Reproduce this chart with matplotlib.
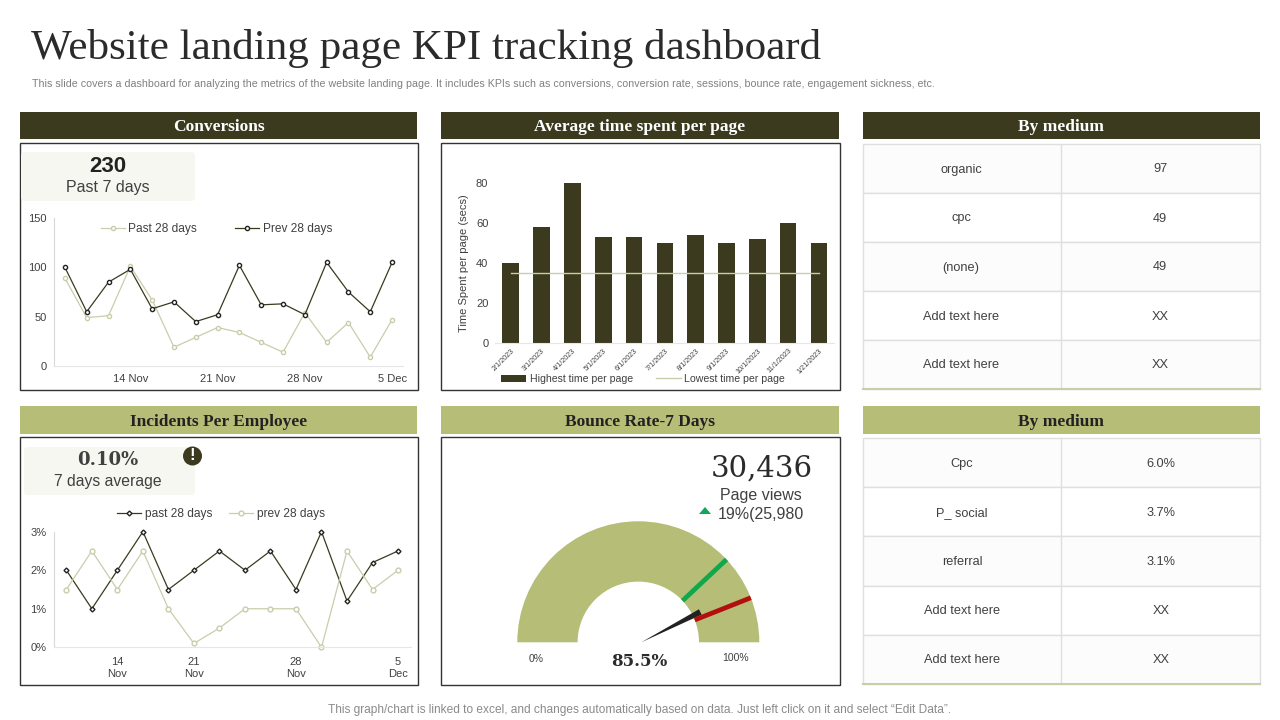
import numpy as np
import matplotlib
matplotlib.use('Agg')
import matplotlib.pyplot as plt
from matplotlib.patches import Rectangle, FancyBboxPatch, Wedge, Polygon, Circle

W, H = 1280, 720
DARK = '#3b3a1e'
OLIVE = '#b5bd76'
PALE = '#c9cdaa'
GREY = '#404040'

conv_dark = [100, 55, 85, 98, 58, 65, 45, 52, 102, 62, 63, 52, 105, 75, 55, 105]
conv_light = [89, 49, 51, 101, 67, 19, 29, 39, 34, 24, 14, 54, 24, 44, 9, 47]
conv_ticks = {3: '14 Nov', 7: '21 Nov', 11: '28 Nov', 15: '5 Dec'}

time_dates = ['2/1/2023', '3/1/2023', '4/1/2023', '5/1/2023', '6/1/2023', '7/1/2023',
              '8/1/2023', '9/1/2023', '10/1/2023', '11/1/2023', '1/21/2023']
time_high = [40, 58, 80, 53, 53, 50, 54, 50, 52, 60, 50]
time_low = [35, 35, 35, 35, 35, 35, 35, 35, 35, 35, 35]

inc_past = [2, 1, 2, 3, 1.5, 2, 2.5, 2, 2.5, 1.5, 3, 1.2, 2.2, 2.5]
inc_prev = [1.5, 2.5, 1.5, 2.5, 1, 0.1, 0.5, 1, 1, 1, 0, 2.5, 1.5, 2]
inc_ticks = {2: '14\nNov', 5: '21\nNov', 9: '28\nNov', 13: '5\nDec'}

table1 = [('organic', '97'), ('cpc', '49'), ('(none)', '49'), ('Add text here', 'XX'), ('Add text here', 'XX')]
table2 = [('Cpc', '6.0%'), ('P_ social', '3.7%'), ('referral', '3.1%'), ('Add text here', 'XX'), ('Add text here', 'XX')]

gauge_value = 85.5
gauge_green = 76
gauge_red = 88

plt.rcParams['font.family'] = ['Liberation Sans', 'DejaVu Sans']
fig = plt.figure(figsize=(W / 100, H / 100), dpi=100, facecolor='white')


def px_axes(x0, y0, x1, y1):
    # axes from pixel box, y counted from the top of the slide
    return fig.add_axes([x0 / W, 1 - y1 / H, (x1 - x0) / W, (y1 - y0) / H])


bg = fig.add_axes([0, 0, 1, 1])
bg.set_xlim(0, W)
bg.set_ylim(H, 0)
bg.axis('off')

bg.text(31, 59.5, 'Website landing page KPI tracking dashboard', family='Liberation Serif', fontsize=31.1,
        color='#2b2b2b', va='baseline')
bg.text(32, 84, 'This slide covers a dashboard for analyzing the metrics of the website landing page. It includes KPIs '
        'such as conversions, conversion rate, sessions, bounce rate, engagement sickness, etc.',
        fontsize=7.69, color='#808080', va='center')
bg.text(639, 710, 'This graph/chart is linked to excel, and changes automatically based on data. Just left click on it '
        'and select \u201cEdit Data\u201d.', fontsize=8.6, color='#8a8a8a', va='center', ha='center')

headers = [(20, 417, 112, 139, 'Conversions', DARK, 'white'),
           (441, 839, 112, 139, 'Average time spent per page', DARK, 'white'),
           (863, 1260, 112, 139, 'By medium', DARK, 'white'),
           (20, 417, 406, 434, 'Incidents Per Employee', OLIVE, '#222222'),
           (441, 839, 406, 434, 'Bounce Rate-7 Days', OLIVE, '#222222'),
           (863, 1260, 406, 434, 'By medium', OLIVE, '#222222')]
for x0, x1, y0, y1, label, col, tcol in headers:
    bg.add_patch(Rectangle((x0, y0), x1 - x0, y1 - y0, fc=col, ec='none'))
    bg.text((x0 + x1) / 2, (y0 + y1) / 2 + 5.5, label, family='Liberation Serif', weight='bold', fontsize=12.5,
            color=tcol, ha='center', va='baseline')

for x0, x1, y0, y1 in [(20, 418, 143, 390), (441, 840, 143, 390), (20, 418, 437, 685), (441, 840, 437, 685)]:
    bg.add_patch(Rectangle((x0, y0), x1 - x0, y1 - y0, fc='white', ec='#333333', lw=1))


def draw_table(rows, top, row_h, text_x):
    x0, x1, xm = 863, 1260, 1061
    for i, (a, b) in enumerate(rows):
        y = top + i * row_h
        bg.add_patch(Rectangle((x0, y), x1 - x0, row_h, fc='#fcfcfc' if i % 2 == 0 else 'white', ec='#dfdfdf', lw=1))
        bg.text(text_x[0], y + row_h / 2 + 1, a, fontsize=9.2, color=GREY, ha='center', va='center')
        bg.text(text_x[1], y + row_h / 2 + 1, b, fontsize=9.2, color=GREY, ha='center', va='center')
    bg.plot([xm, xm], [top, top + row_h * len(rows)], color='#dfdfdf', lw=1)
    bg.plot([x0, x1], [top + row_h * len(rows)] * 2, color=PALE, lw=1.5)


draw_table(table1, 144, 49, (961, 1160))
draw_table(table2, 438, 49.2, (962, 1161))

# KPI boxes
for x0, y0, x1, y1 in [(21, 152, 195, 201), (24, 447, 195, 495)]:
    bg.add_patch(FancyBboxPatch((x0 + 4, y0 + 4), x1 - x0 - 8, y1 - y0 - 8, boxstyle='round,pad=4',
                                fc='#f7f7f1', ec='none'))
bg.text(108, 166, '230', fontsize=16, weight='bold', color='#222222', ha='center', va='center')
bg.text(108, 187.5, 'Past 7 days', fontsize=11.5, color=GREY, ha='center', va='center')
bg.text(108, 460, '0.10%', family='DejaVu Serif', weight='bold', fontsize=13, color=GREY, ha='center', va='center')
bg.text(108, 481.5, '7 days average', fontsize=11.3, color=GREY, ha='center', va='center')
bg.add_patch(Circle((192.5, 456), 9.5, fc=DARK, ec='none'))
bg.text(192.5, 456, '!', fontsize=12, weight='bold', color='white', ha='center', va='center')


def style_axis(ax):
    for s in ['top', 'right']:
        ax.spines[s].set_visible(False)
    ax.spines['left'].set_color('#d9d9d9')
    ax.spines['bottom'].set_color('#e6e6e6')
    ax.tick_params(length=0, labelsize=8, labelcolor=GREY)
    ax.patch.set_alpha(0)


# Conversions
ax = px_axes(54, 218, 403, 366)
x = np.arange(len(conv_dark))
l1, = ax.plot(x, conv_light, color=PALE, lw=0.9, marker='o', ms=3, mfc='white', mec=PALE, label='Past 28 days')
l2, = ax.plot(x, conv_dark, color=DARK, lw=0.9, marker='o', ms=3, mfc='white', mec='#222222', label='Prev 28 days')
ax.set_xlim(-0.5, len(x) - 0.5)
ax.set_ylim(0, 150)
ax.set_yticks([0, 50, 100, 150])
ax.set_xticks(list(conv_ticks), list(conv_ticks.values()))
style_axis(ax)
ax.tick_params(axis='y', pad=5)
ax.tick_params(axis='x', pad=6)
ax.legend(handles=[l1, l2], ncol=2, loc='center', bbox_to_anchor=(0.466, 0.925), frameon=False, fontsize=8.6,
          labelcolor=GREY, columnspacing=3.2, handlelength=2, handletextpad=0.33, borderpad=0)

# Average time per page
ax = px_axes(495.3, 183, 834.4, 343)
x = np.arange(len(time_high))
b = ax.bar(x, time_high, width=0.54, color=DARK, label='Highest time per page')
l, = ax.plot(x, time_low, color=PALE, lw=1, label='Lowest time per page')
ax.set_xlim(-0.5, len(x) - 0.5)
ax.set_ylim(0, 80)
ax.set_yticks([0, 20, 40, 60, 80])
ax.set_xticks(x, time_dates, rotation=45, ha='right', rotation_mode='anchor', fontsize=5.2)
style_axis(ax)
ax.spines['left'].set_visible(False)
ax.tick_params(axis='x', labelsize=5.2, pad=3)
ax.tick_params(axis='y', pad=5, labelsize=8)
ax.set_ylabel('Time Spent per page (secs)', fontsize=8, color=GREY, labelpad=5)
ax.legend(handles=[b, l], ncol=2, loc='center', bbox_to_anchor=(0.436, -0.225), frameon=False, fontsize=7.6,
          labelcolor=GREY, columnspacing=2.2, handlelength=2.4, handletextpad=0.3, borderpad=0)

# Incidents per employee
ax = px_axes(53.6, 531.7, 410.8, 647.3)
x = np.arange(len(inc_past))
l1, = ax.plot(x, inc_past, color=DARK, lw=0.9, marker='D', ms=2.5, mfc='white', mec='#222222', label='past 28 days',
              clip_on=False)
l2, = ax.plot(x, inc_prev, color=PALE, lw=0.9, marker='o', ms=3.5, mfc='white', mec=PALE, label='prev 28 days',
              clip_on=False)
ax.set_xlim(-0.5, len(x) - 0.5)
ax.set_ylim(0, 3)
ax.set_yticks([0, 1, 2, 3], ['0%', '1%', '2%', '3%'])
ax.set_xticks(list(inc_ticks), list(inc_ticks.values()))
style_axis(ax)
ax.tick_params(axis='y', pad=5)
ax.tick_params(axis='x', pad=7, labelsize=8)
ax.legend(handles=[l1, l2], ncol=2, loc='center', bbox_to_anchor=(0.469, 1.155), frameon=False, fontsize=8.6,
          labelcolor=GREY, columnspacing=1.4, handlelength=2, handletextpad=0.33, borderpad=0)

# Bounce rate gauge, drawn in pixels around the hub
cx, cy, r_out, r_in = 638.3, 642.3, 121, 60.7


def angle(pct):
    # pct 0 at left end of the arc, 100 at right end; y axis of bg points down
    return np.deg2rad(180 - 180 * pct / 100)


bg.add_patch(Wedge((cx, cy), r_out, 180, 360, width=r_out - r_in, fc=OLIVE, ec='none'))
for pct, col in [(gauge_green, '#0fa84a'), (gauge_red, '#b30f0f')]:
    t = angle(pct)
    bg.plot([cx + r_in * np.cos(t), cx + r_out * np.cos(t)], [cy - r_in * np.sin(t), cy - r_out * np.sin(t)],
            color=col, lw=3.4, solid_capstyle='butt')
t = angle(gauge_value)
tip = np.array([cx + 69 * np.cos(t), cy - 69 * np.sin(t)])
n = np.array([np.sin(t), np.cos(t)]) * 3
bg.add_patch(Polygon([(cx + 3, cy), tip + n, tip - n], fc='#222222', ec='none'))

bg.text(536, 659, '0%', fontsize=7.5, color=GREY, ha='center', va='center')
bg.text(736, 658, '100%', fontsize=7.5, color=GREY, ha='center', va='center')
bg.text(639.5, 661, '85.5%', family='DejaVu Serif', weight='bold', fontsize=12, color='#2b2b2b', ha='center', va='center')
bg.text(762, 469, '30,436', family='DejaVu Serif', fontsize=21, color='#2b2b2b', ha='center', va='center')
bg.text(761, 495.5, 'Page views', fontsize=11.5, color=GREY, ha='center', va='center')
bg.text(761, 514.5, '19%(25,980', fontsize=11.5, color=GREY, ha='center', va='center')
bg.add_patch(Polygon([(699, 514), (711, 514), (705, 507)], fc='#12a560', ec='none'))

fig.savefig('out.png', dpi=100)
